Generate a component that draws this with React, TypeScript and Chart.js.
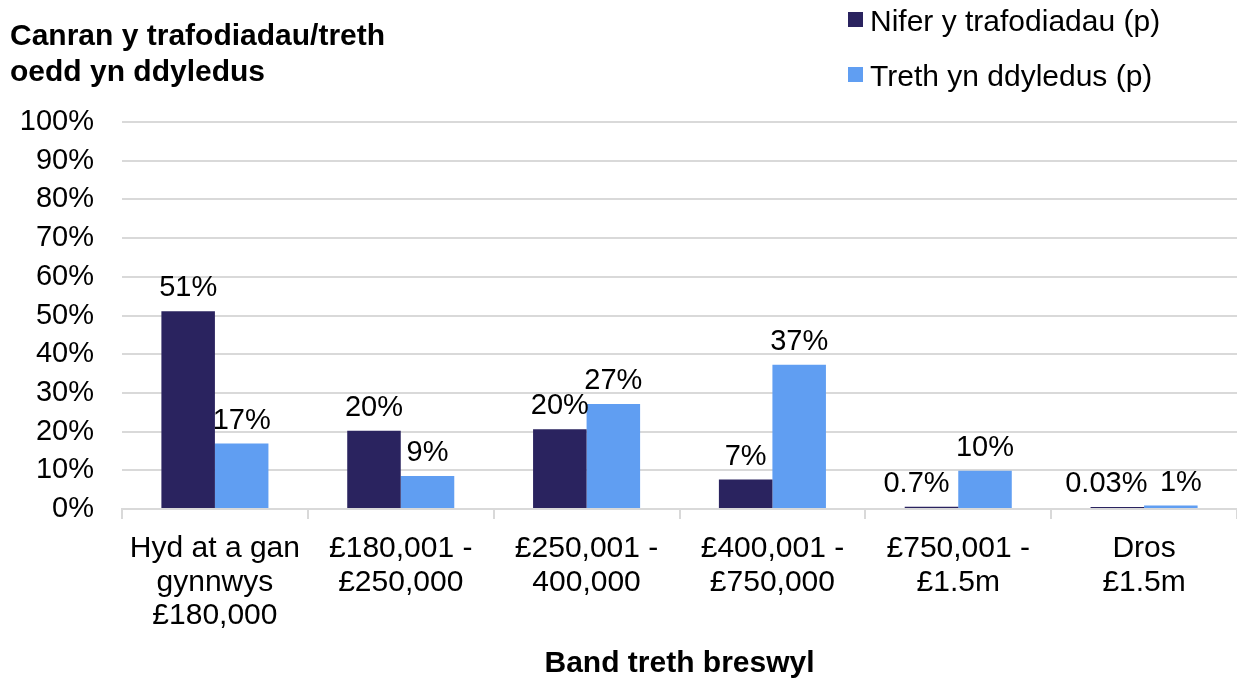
import React, { useEffect, useRef } from "react";
import { Chart, registerables } from "chart.js";

Chart.register(...registerables);

const categories: string[][] = [
  ["Hyd at a gan", "gynnwys", "£180,000"],
  ["£180,001 -", "£250,000"],
  ["£250,001 -", "400,000"],
  ["£400,001 -", "£750,000"],
  ["£750,001 -", "£1.5m"],
  ["Dros", "£1.5m"],
];

const seriesNames = ["Nifer y trafodiadau (p)", "Treth yn ddyledus (p)"];
const transactions = [51.1, 20.2, 20.6, 7.6, 0.6, 0.5];
const taxDue = [16.9, 8.5, 27.1, 37.3, 9.9, 0.9];
const transactionLabels = ["51%", "20%", "20%", "7%", "0.7%", "0.03%"];
const taxLabels = ["17%", "9%", "27%", "37%", "10%", "1%"];
const transactionLabelShift = [0, 0, 0, 0, -15, -11];
const taxLabelShift = [0, 0, 0, 0, 0, 10];
const yTicks = [0, 10, 20, 30, 40, 50, 60, 70, 80, 90, 100];

const titleLines = ["Canran y trafodiadau/treth", "oedd yn ddyledus"];
const xTitle = "Band treth breswyl";

const DARK = "#2a235f";
const LIGHT = "#609ef2";
const GRID = "#d9d9d9";
const FONT = "'Liberation Sans', Arial, sans-serif";

const overlayPlugin = {
  id: "overlay",
  afterDatasetsDraw(chart: any) {
    const ctx = chart.ctx;
    ctx.save();
    ctx.font = `29px ${FONT}`;
    ctx.fillStyle = "#000";
    ctx.textAlign = "center";
    ctx.textBaseline = "alphabetic";
    const labelSets = [transactionLabels, taxLabels];
    const shiftSets = [transactionLabelShift, taxLabelShift];
    chart.data.datasets.forEach((_: any, di: number) => {
      const meta = chart.getDatasetMeta(di);
      meta.data.forEach((bar: any, i: number) => {
        ctx.fillText(labelSets[di][i], bar.x + shiftSets[di][i], bar.y - 15);
      });
    });
    ctx.restore();
  },
  afterDraw(chart: any) {
    const ctx = chart.ctx;
    ctx.save();
    ctx.font = `bold 30px ${FONT}`;
    ctx.fillStyle = "#000";
    ctx.textAlign = "left";
    ctx.textBaseline = "middle";
    ctx.fillText(titleLines[0], 10, 37);
    ctx.fillText(titleLines[1], 10, 73);
    const colors = [DARK, LIGHT];
    const legendY = [19, 74];
    ctx.font = `30px ${FONT}`;
    seriesNames.forEach((name, i) => {
      ctx.fillStyle = colors[i];
      ctx.fillRect(848, legendY[i] - 7, 15, 15);
      ctx.fillStyle = "#000";
      ctx.fillText(name, 870, legendY[i] + 4);
    });
    ctx.restore();
  },
};

export default function App() {
  const canvasRef = useRef<HTMLCanvasElement | null>(null);

  useEffect(() => {
    const canvas = canvasRef.current;
    if (!canvas) return;
    const chart = new Chart(canvas, {
      type: "bar",
      data: {
        labels: categories,
        datasets: [
          {
            label: seriesNames[0],
            data: transactions,
            backgroundColor: DARK,
            borderWidth: 0,
            categoryPercentage: 0.576,
            barPercentage: 1,
          },
          {
            label: seriesNames[1],
            data: taxDue,
            backgroundColor: LIGHT,
            borderWidth: 0,
            categoryPercentage: 0.576,
            barPercentage: 1,
          },
        ],
      },
      options: {
        responsive: false,
        animation: false,
        layout: { padding: { top: 122, left: 0, right: 0, bottom: 0 } },
        plugins: {
          legend: { display: false },
          title: { display: false },
          tooltip: { enabled: false },
        },
        scales: {
          x: {
            grid: {
              display: true,
              drawOnChartArea: false,
              drawTicks: true,
              tickLength: 10,
              color: GRID,
              lineWidth: 2,
            },
            border: { display: true, color: GRID, width: 2 },
            ticks: {
              color: "#000",
              font: { family: FONT, size: 30, lineHeight: 1.117 },
              padding: 13,
              maxRotation: 0,
              autoSkip: false,
            },
            title: {
              display: true,
              text: xTitle,
              color: "#000",
              font: { family: FONT, size: 30, weight: "bold", lineHeight: 1.2 },
              padding: { top: 0, bottom: 0 },
            },
            afterFit(scale: any) {
              scale.height = 173;
            },
          },
          y: {
            min: 0,
            max: 100,
            afterBuildTicks(scale: any) {
              scale.ticks = yTicks.map((v) => ({ value: v }));
            },
            grid: { color: GRID, lineWidth: 2, drawTicks: false },
            border: { display: false },
            ticks: {
              color: "#000",
              font: { family: FONT, size: 29 },
              padding: 28,
              callback: (v: any) => `${v}%`,
            },
            afterFit(scale: any) {
              scale.width = 122;
            },
          },
        },
      },
      plugins: [overlayPlugin],
    });
    return () => chart.destroy();
  }, []);

  return (
    <div style={{ position: "fixed", left: 0, top: 0, width: 1237, height: 682, background: "#fff" }}>
      <canvas ref={canvasRef} width={1237} height={682} style={{ display: "block" }} />
    </div>
  );
}
